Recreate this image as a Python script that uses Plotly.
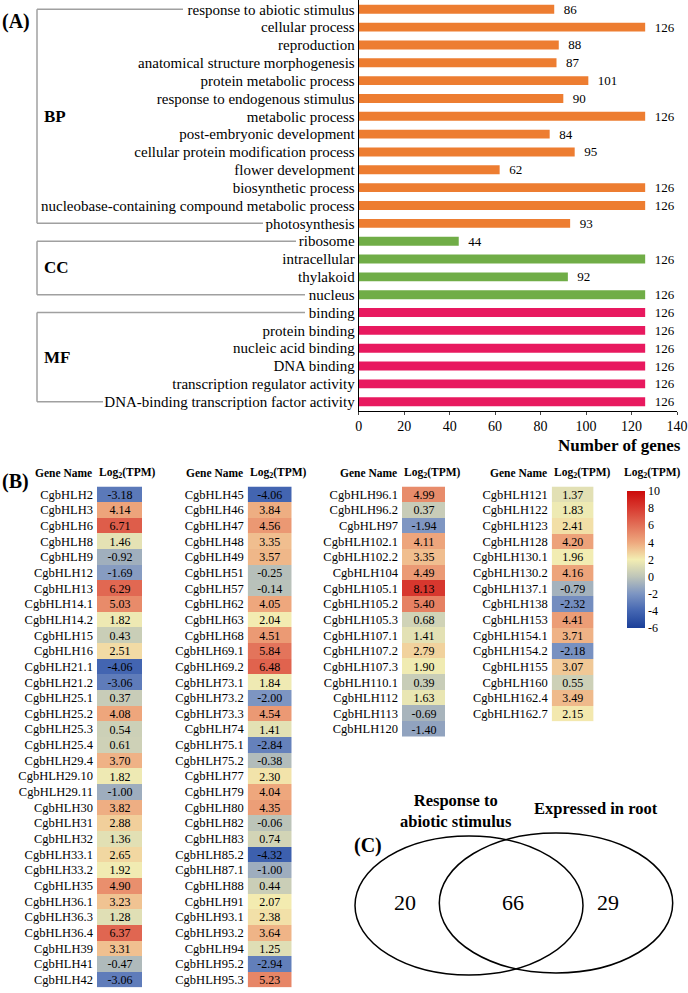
import plotly.graph_objects as go

W, H = 688, 993
SERIF = "Liberation Serif"


def px(x):
    return x / W


def py(y):
    return 1 - y / H


# (A) GO terms, top to bottom
go_terms = [
    "response to abiotic stimulus", "cellular process", "reproduction",
    "anatomical structure morphogenesis", "protein metabolic process",
    "response to endogenous stimulus", "metabolic process",
    "post-embryonic development", "cellular protein modification process",
    "flower development", "biosynthetic process",
    "nucleobase-containing compound metabolic process", "photosynthesis",
    "ribosome", "intracellular", "thylakoid", "nucleus",
    "binding", "protein binding", "nucleic acid binding", "DNA binding",
    "transcription regulator activity",
    "DNA-binding transcription factor activity",
]
go_counts = [86, 126, 88, 87, 101, 90, 126, 84, 95, 62, 126, 126, 93,
             44, 126, 92, 126,
             126, 126, 126, 126, 126, 126]
go_groups = ["BP"] * 13 + ["CC"] * 4 + ["MF"] * 6
group_colors = {"BP": "#ED7D31", "CC": "#70AD47", "MF": "#E8195F"}

# (B) expression, four columns
genes_1 = ["CgbHLH2", "CgbHLH3", "CgbHLH6", "CgbHLH8", "CgbHLH9", "CgbHLH12",
           "CgbHLH13", "CgbHLH14.1", "CgbHLH14.2", "CgbHLH15", "CgbHLH16",
           "CgbHLH21.1", "CgbHLH21.2", "CgbHLH25.1", "CgbHLH25.2",
           "CgbHLH25.3", "CgbHLH25.4", "CgbHLH29.4", "CgbHLH29.10",
           "CgbHLH29.11", "CgbHLH30", "CgbHLH31", "CgbHLH32", "CgbHLH33.1",
           "CgbHLH33.2", "CgbHLH35", "CgbHLH36.1", "CgbHLH36.3", "CgbHLH36.4",
           "CgbHLH39", "CgbHLH41", "CgbHLH42"]
tpm_1 = [-3.18, 4.14, 6.71, 1.46, -0.92, -1.69, 6.29, 5.03, 1.82, 0.43, 2.51,
         -4.06, -3.06, 0.37, 4.08, 0.54, 0.61, 3.70, 1.82, -1.00, 3.82, 2.88,
         1.36, 2.65, 1.92, 4.90, 3.23, 1.28, 6.37, 3.31, -0.47, -3.06]

genes_2 = ["CgbHLH45", "CgbHLH46", "CgbHLH47", "CgbHLH48", "CgbHLH49",
           "CgbHLH51", "CgbHLH57", "CgbHLH62", "CgbHLH63", "CgbHLH68",
           "CgbHLH69.1", "CgbHLH69.2", "CgbHLH73.1", "CgbHLH73.2",
           "CgbHLH73.3", "CgbHLH74", "CgbHLH75.1", "CgbHLH75.2", "CgbHLH77",
           "CgbHLH79", "CgbHLH80", "CgbHLH82", "CgbHLH83", "CgbHLH85.2",
           "CgbHLH87.1", "CgbHLH88", "CgbHLH91", "CgbHLH93.1", "CgbHLH93.2",
           "CgbHLH94", "CgbHLH95.2", "CgbHLH95.3"]
tpm_2 = [-4.06, 3.84, 4.56, 3.35, 3.57, -0.25, -0.14, 4.05, 2.04, 4.51, 5.84,
         6.48, 1.84, -2.00, 4.54, 1.41, -2.84, -0.38, 2.30, 4.04, 4.35, -0.06,
         0.74, -4.32, -1.00, 0.44, 2.07, 2.38, 3.64, 1.25, -2.94, 5.23]

genes_3 = ["CgbHLH96.1", "CgbHLH96.2", "CgbHLH97", "CgbHLH102.1",
           "CgbHLH102.2", "CgbHLH104", "CgbHLH105.1", "CgbHLH105.2",
           "CgbHLH105.3", "CgbHLH107.1", "CgbHLH107.2", "CgbHLH107.3",
           "CgbHLH110.1", "CgbHLH112", "CgbHLH113", "CgbHLH120"]
tpm_3 = [4.99, 0.37, -1.94, 4.11, 3.35, 4.49, 8.13, 5.40, 0.68, 1.41, 2.79,
         1.90, 0.39, 1.63, -0.69, -1.40]

genes_4 = ["CgbHLH121", "CgbHLH122", "CgbHLH123", "CgbHLH128", "CgbHLH130.1",
           "CgbHLH130.2", "CgbHLH137.1", "CgbHLH138", "CgbHLH153",
           "CgbHLH154.1", "CgbHLH154.2", "CgbHLH155", "CgbHLH160",
           "CgbHLH162.4", "CgbHLH162.7"]
tpm_4 = [1.37, 1.83, 2.41, 4.20, 1.96, 4.16, -0.79, -2.32, 4.41, 3.71, -2.18,
         3.07, 0.55, 3.49, 2.15]

colorbar_ticks = [10, 8, 6, 4, 2, 0, -2, -4, -6]

# (C) Venn
venn_labels = ["Response to<br>abiotic stimulus", "Expressed in root"]
venn_counts = [20, 66, 29]

fig = go.Figure()

# ---- (A) bar chart
fig.add_trace(go.Bar(
    y=go_terms, x=go_counts, orientation="h", width=0.5,
    marker=dict(color=[group_colors[g] for g in go_groups], line_width=0),
    text=go_counts, texttemplate="\u00a0\u00a0%{x}", textposition="outside",
    textfont=dict(family=SERIF, size=13, color="black"),
    constraintext="none", cliponaxis=False, hoverinfo="skip",
    xaxis="x", yaxis="y",
))

fig.update_layout(
    xaxis=dict(domain=[px(358.7), px(677)], range=[0, 140],
               tickvals=list(range(0, 141, 20)), ticks="outside", ticklen=3,
               showline=True, linecolor="black", linewidth=1,
               showgrid=False, zeroline=False,
               tickfont=dict(family=SERIF, size=14, color="black"),
               anchor="y"),
    yaxis=dict(domain=[py(410.6), py(0.4)], type="category",
               categoryarray=go_terms, range=[len(go_terms) - 0.5, -0.5],
               tickmode="linear", tick0=0, dtick=1,
               showline=True, linecolor="black", linewidth=1, ticks="",
               showgrid=False, zeroline=False,
               tickfont=dict(family=SERIF, size=15, color="black"),
               anchor="x"),
)

shapes = []
annotations = []

# group brackets
bracket_x = px(37)
bracket_ends = {"BP": (183, 263), "CC": (296, 305), "MF": (305, 103)}
for grp in ["BP", "CC", "MF"]:
    idx = [i for i, g in enumerate(go_groups) if g == grp]
    top, bot = idx[0], idx[-1]
    x_top, x_bot = bracket_ends[grp]
    line = dict(color="#A0A0A0", width=1.5)
    shapes += [
        dict(type="line", xref="paper", yref="y", x0=bracket_x, x1=bracket_x,
             y0=top, y1=bot, line=line),
        dict(type="line", xref="paper", yref="y", x0=bracket_x, x1=px(x_top),
             y0=top, y1=top, line=line),
        dict(type="line", xref="paper", yref="y", x0=bracket_x, x1=px(x_bot),
             y0=bot, y1=bot, line=line),
    ]
    annotations.append(dict(
        text=f"<b>{grp}</b>", xref="paper", yref="y", x=px(41.5),
        y=(top + bot) / 2, xanchor="left", yanchor="middle", showarrow=False,
        font=dict(family=SERIF, size=17, color="black")))

annotations.append(dict(
    text="<b>Number of genes</b>", xref="paper", yref="paper", x=px(683),
    y=py(445), xanchor="right", yanchor="middle", showarrow=False,
    font=dict(family=SERIF, size=17, color="black")))

# ---- (B) heatmaps
row_h = 15.65
top_y = 486.5
columns = [
    (genes_1, tpm_1, 97, 142),
    (genes_2, tpm_2, 247.7, 291.7),
    (genes_3, tpm_3, 402, 445),
    (genes_4, tpm_4, 551.7, 593.5),
]
scale = [
    [0.0, "#1B3F98"], [0.125, "#4466B2"], [0.25, "#7D95C2"],
    [0.375, "#BEC5B9"], [0.5, "#F3EDB2"], [0.625, "#EEA87E"],
    [0.75, "#E27058"], [0.875, "#D83A30"], [1.0, "#CC0A0A"],
]

for k, (genes, vals, x0, x1) in enumerate(columns, start=2):
    fig.add_trace(go.Heatmap(
        z=[[v] for v in vals], y=genes, x=["v"], coloraxis="coloraxis",
        texttemplate="%{z:.2f}",
        textfont=dict(family=SERIF, size=12, color="black"),
        xgap=0, ygap=0, hoverinfo="skip",
        xaxis=f"x{k}", yaxis=f"y{k}",
    ))
    bottom = top_y + len(genes) * row_h
    fig.layout[f"xaxis{k}"] = dict(domain=[px(x0), px(x1)], visible=False,
                                   anchor=f"y{k}")
    fig.layout[f"yaxis{k}"] = dict(
        domain=[py(bottom), py(top_y)], type="category",
        autorange="reversed", ticks="", showline=False, showgrid=False,
        tickmode="linear", tick0=0, dtick=1, ticklabelstandoff=3,
        zeroline=False, tickfont=dict(family=SERIF, size=12.5, color="black"),
        anchor=f"x{k}")
    annotations += [
        dict(text="<b>Gene Name</b>", xref="paper", yref="paper",
             x=px(x0 - 3), y=py(473), xanchor="right", yanchor="middle",
             showarrow=False, font=dict(family=SERIF, size=11.5, color="black")),
        dict(text="<b>Log<sub>2</sub>(TPM)</b>", xref="paper", yref="paper",
             x=px(x0), y=py(473), xanchor="left", yanchor="middle",
             showarrow=False, font=dict(family=SERIF, size=11.5, color="black")),
    ]

fig.update_layout(coloraxis=dict(
    cmin=-6, cmax=10, colorscale=scale,
    colorbar=dict(x=px(627), xanchor="left", y=py(491), yanchor="top",
                  len=137 / H, lenmode="fraction", thickness=18,
                  thicknessmode="pixels", outlinewidth=0, ticks="",
                  tickvals=colorbar_ticks,
                  ticktext=[str(t) for t in colorbar_ticks], ypad=0, xpad=0,
                  tickfont=dict(family=SERIF, size=12, color="black")),
))
annotations.append(dict(
    text="<b>Log<sub>2</sub>(TPM)</b>", xref="paper", yref="paper",
    x=px(652), y=py(473), xanchor="center", yanchor="middle",
    showarrow=False, font=dict(family=SERIF, size=11.5, color="black")))

# ---- (C) Venn
venn_ellipses = [(355, 836, 583, 975), (439.3, 833, 672.7, 973)]
for x0, y0, x1, y1 in venn_ellipses:
    shapes.append(dict(type="circle", xref="paper", yref="paper",
                       x0=px(x0), x1=px(x1), y0=py(y1), y1=py(y0),
                       line=dict(color="black", width=1.5)))
for n, xc in zip(venn_counts, [405, 513, 608]):
    annotations.append(dict(
        text=str(n), xref="paper", yref="paper", x=px(xc), y=py(902),
        xanchor="center", yanchor="middle", showarrow=False,
        font=dict(family=SERIF, size=22, color="black")))
for lab, xc, yc in zip(venn_labels, [456, 596], [811, 808]):
    annotations.append(dict(
        text=f"<b>{lab}</b>", xref="paper", yref="paper", x=px(xc), y=py(yc),
        xanchor="center", yanchor="middle", showarrow=False,
        font=dict(family=SERIF, size=16.5, color="black")))

# panel letters
for lab, xl, yc in [("(A)", 0, 21), ("(B)", 0, 481), ("(C)", 352, 845)]:
    annotations.append(dict(
        text=f"<b>{lab}</b>", xref="paper", yref="paper", x=px(xl), y=py(yc),
        xanchor="left", yanchor="middle", showarrow=False,
        font=dict(family=SERIF, size=20, color="black")))

fig.update_layout(
    width=W, height=H,
    margin=dict(l=0, r=0, t=0, b=0, pad=0, autoexpand=False),
    paper_bgcolor="white", plot_bgcolor="white", showlegend=False,
    shapes=shapes, annotations=annotations,
)

# drop the page's default body margin and scrollbars so the figure sits at 0,0
page_fix = ("document.body.style.margin = '0';"
            "document.body.style.overflow = 'hidden';"
            "document.documentElement.style.overflow = 'hidden';")
fig.write_html("out.html", config={"displayModeBar": False},
               post_script=page_fix)
